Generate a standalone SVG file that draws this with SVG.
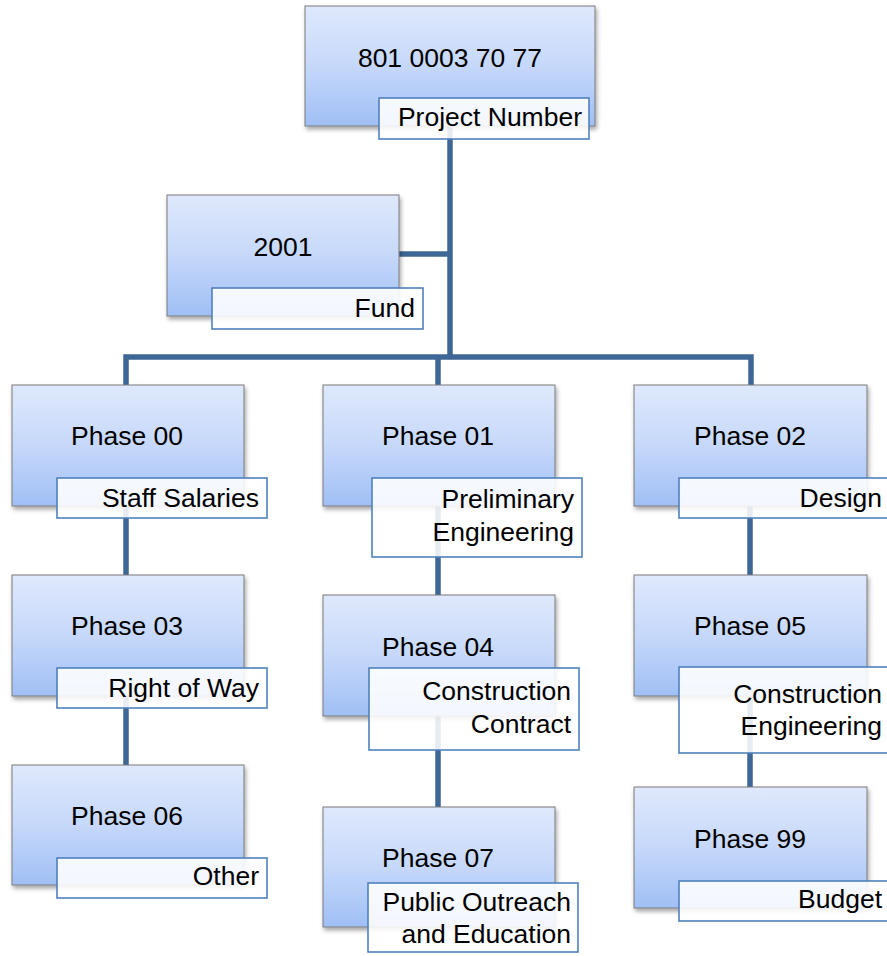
<svg xmlns="http://www.w3.org/2000/svg" width="887" height="956" viewBox="0 0 887 956">
<style>
.box{fill:url(#g);stroke:#7a7a7a;stroke-width:1;filter:url(#sh)}
.lab{fill:#ffffff;fill-opacity:0.88;stroke:#4f81bd;stroke-width:1.6}
.t{font-family:"Liberation Sans",Arial,sans-serif;font-size:26.5px;fill:#000}
.c{text-anchor:middle}
.e{text-anchor:end}
.con{fill:none;stroke:#3e6796;stroke-width:5.5}
</style>
<defs>
<linearGradient id="g" x1="0" y1="0" x2="0" y2="1">
<stop offset="0" stop-color="#dfe9fc"/>
<stop offset="0.5" stop-color="#c6d8fa"/>
<stop offset="1" stop-color="#a0bff5"/>
</linearGradient>
<filter id="sh" x="-10%" y="-10%" width="125%" height="130%">
<feDropShadow dx="1.5" dy="3" stdDeviation="2" flood-color="#000" flood-opacity="0.35"/>
</filter>
</defs>
<g id="connectors">
<path class="con" d="M450 126 V357"/>
<path class="con" d="M399 254 H450"/>
<path class="con" d="M126 385 V357 H751 V385"/>
<path class="con" d="M438 357 V385"/>
<path class="con" d="M126 506 V575 M126 696 V765"/>
<path class="con" d="M438 506 V595 M438 716 V807"/>
<path class="con" d="M750 506 V575 M750 696 V787"/>
</g>
<g id="project">
<rect class="box" x="305" y="6" width="290" height="120"/>
<text class="t c" x="450" y="67">801 0003 70 77</text>
<rect class="lab" x="379" y="98" width="210" height="41"/>
<text class="t e" x="582" y="126">Project Number</text>
</g>
<g id="fund">
<rect class="box" x="167" y="195" width="232" height="121"/>
<text class="t c" x="283" y="256">2001</text>
<rect class="lab" x="212" y="288" width="211" height="41"/>
<text class="t e" x="415" y="317">Fund</text>
</g>
<g id="phase00">
<rect class="box" x="12" y="385" width="232" height="121"/>
<text class="t c" x="127" y="445">Phase 00</text>
<rect class="lab" x="57" y="478" width="210" height="40"/>
<text class="t e" x="259" y="507">Staff Salaries</text>
</g>
<g id="phase01">
<rect class="box" x="323" y="385" width="232" height="121"/>
<text class="t c" x="438" y="445">Phase 01</text>
<rect class="lab" x="372" y="478" width="210" height="79"/>
<text class="t e" x="574" y="508">Preliminary</text>
<text class="t e" x="574" y="541">Engineering</text>
</g>
<g id="phase02">
<rect class="box" x="634" y="385" width="233" height="121"/>
<text class="t c" x="750" y="445">Phase 02</text>
<rect class="lab" x="679" y="478" width="212" height="40"/>
<text class="t e" x="882" y="507">Design</text>
</g>
<g id="phase03">
<rect class="box" x="12" y="575" width="232" height="121"/>
<text class="t c" x="127" y="635">Phase 03</text>
<rect class="lab" x="57" y="668" width="210" height="40"/>
<text class="t e" x="259" y="697">Right of Way</text>
</g>
<g id="phase04">
<rect class="box" x="323" y="595" width="232" height="121"/>
<text class="t c" x="438" y="656">Phase 04</text>
<rect class="lab" x="369" y="668" width="210" height="82"/>
<text class="t e" x="571" y="700">Construction</text>
<text class="t e" x="571" y="733">Contract</text>
</g>
<g id="phase05">
<rect class="box" x="634" y="575" width="233" height="121"/>
<text class="t c" x="750" y="635">Phase 05</text>
<rect class="lab" x="679" y="667" width="212" height="86"/>
<text class="t e" x="882" y="703">Construction</text>
<text class="t e" x="882" y="735">Engineering</text>
</g>
<g id="phase06">
<rect class="box" x="12" y="765" width="232" height="120"/>
<text class="t c" x="127" y="825">Phase 06</text>
<rect class="lab" x="57" y="858" width="210" height="40"/>
<text class="t e" x="259" y="885">Other</text>
</g>
<g id="phase07">
<rect class="box" x="323" y="807" width="232" height="120"/>
<text class="t c" x="438" y="867">Phase 07</text>
<rect class="lab" x="368" y="883" width="210" height="69"/>
<text class="t e" x="571" y="911">Public Outreach</text>
<text class="t e" x="571" y="943">and Education</text>
</g>
<g id="phase99">
<rect class="box" x="634" y="787" width="233" height="121"/>
<text class="t c" x="750" y="848">Phase 99</text>
<rect class="lab" x="679" y="881" width="212" height="40"/>
<text class="t e" x="882" y="908">Budget</text>
</g>
</svg>
